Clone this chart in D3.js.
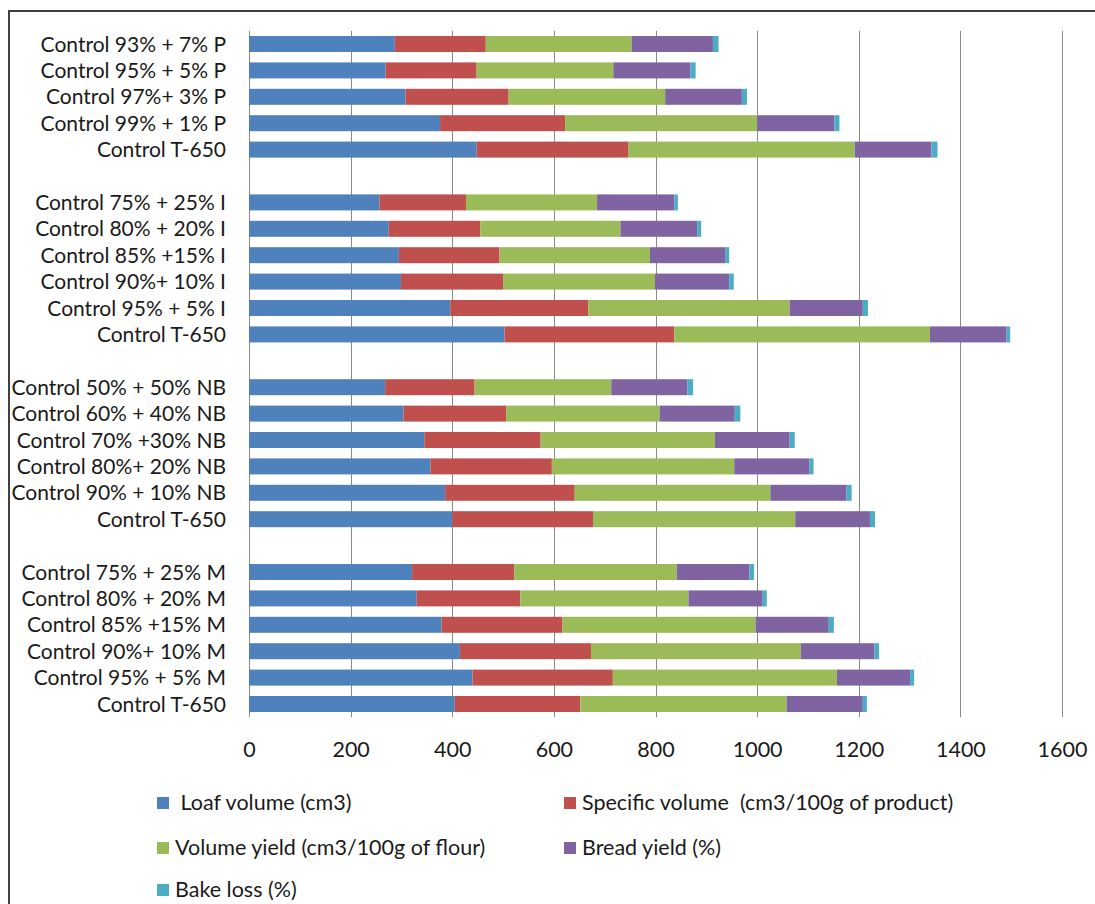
<!DOCTYPE html>
<html>
<head>
<meta charset="utf-8">
<script src="https://cdn.jsdelivr.net/npm/d3@7/dist/d3.min.js"></script>
<style>
  html, body { margin: 0; padding: 0; background: #fff; }
  svg { display: block; font-family: Lato, "Open Sans", sans-serif; }
  .lbl { white-space: pre; }
</style>
</head>
<body>
<div id="chart"></div>
<script>
// Bread quality by flour blend; empty strings separate the blend groups.
const categories = [
  "Control 93% + 7% P", "Control 95% + 5% P", "Control 97%+ 3% P", "Control 99% + 1% P", "Control T-650",
  "",
  "Control 75% + 25% I", "Control 80% + 20% I", "Control 85% +15% I", "Control 90%+ 10% I", "Control 95% + 5% I", "Control T-650",
  "",
  "Control 50% + 50% NB", "Control 60% + 40% NB", "Control 70% +30% NB", "Control 80%+ 20% NB", "Control 90% + 10% NB", "Control T-650",
  "",
  "Control 75% + 25% M", "Control 80% + 20% M", "Control 85% +15% M", "Control 90%+ 10% M", "Control 95% + 5% M", "Control T-650"
];

const loafVolume     = [287, 269, 308, 376, 448, null, 257, 275, 295, 299, 396, 503, null, 268, 304, 345, 357, 386, 400, null, 321, 330, 379, 415, 440, 405];
const specificVolume = [179, 179, 203, 246, 299, null, 170, 180, 198, 201, 272, 334, null, 176, 202, 229, 239, 255, 277, null, 201, 204, 238, 258, 276, 247];
const volumeYield    = [287, 269, 308, 378, 445, null, 258, 276, 296, 299, 396, 503, null, 269, 302, 343, 359, 385, 398, null, 320, 331, 380, 413, 441, 406];
const breadYield     = [160, 152, 151, 152, 151, null, 152, 151, 148, 146, 144, 151, null, 150, 148, 147, 148, 150, 147, null, 143, 146, 144, 145, 144, 150];
const bakeLoss       = [ 11,  10,  10,  10,  12, null,   7,   8,   8,   9,  10,   7, null,  11,  11,  10,   8,  10,  10, null,   9,   8,  10,   9,   8,   8];

const seriesNames  = ["Loaf volume (cm3)", "Specific volume  (cm3/100g of product)", "Volume yield (cm3/100g of flour)", "Bread yield (%)", "Bake loss (%)"];
const seriesColors = ["#4F81BD", "#C0504D", "#9BBB59", "#8064A2", "#4BACC6"];
const xTicks = [0, 200, 400, 600, 800, 1000, 1200, 1400, 1600];

const W = 1095, H = 904;
const margin = { left: 249, right: 1095 - 1062, top: 30.8, bottom: 904 - 717.2 };

const svg = d3.select("#chart").append("svg").attr("width", W).attr("height", H);

// outer frame (top and left edges)
svg.append("path")
  .attr("d", `M9,${H} L9,11 L${W},11`)
  .attr("fill", "none").attr("stroke", "#404040").attr("stroke-width", 2);

const x = d3.scaleLinear().domain([0, 1600]).range([margin.left, W - margin.right]);
const y = d3.scaleBand().domain(d3.range(categories.length))
  .range([margin.top, H - margin.bottom])
  .paddingInner(0.394).paddingOuter(0.197);

// vertical gridlines
svg.append("g").selectAll("line").data(xTicks).join("line")
  .attr("x1", d => Math.round(x(d)) + 0.5).attr("x2", d => Math.round(x(d)) + 0.5)
  .attr("y1", margin.top).attr("y2", H - margin.bottom)
  .attr("stroke", "#8a8a8a").attr("stroke-width", 1);

// stacked bars
const rows = categories.map((c, i) => ({
  i, c,
  vals: [loafVolume[i], specificVolume[i], volumeYield[i], breadYield[i], bakeLoss[i]]
})).filter(r => r.vals[0] !== null);

const segs = [];
rows.forEach(r => {
  let acc = 0;
  r.vals.forEach((v, k) => { segs.push({ i: r.i, k, x0: acc, x1: acc + v }); acc += v; });
});

svg.append("g").selectAll("rect").data(segs).join("rect")
  .attr("x", d => x(d.x0))
  .attr("width", d => x(d.x1) - x(d.x0))
  .attr("y", d => y(d.i))
  .attr("height", y.bandwidth())
  .attr("fill", d => seriesColors[d.k]);

// category labels
svg.append("g").selectAll("text").data(rows).join("text")
  .attr("x", 226)
  .attr("y", d => y(d.i) + y.bandwidth() / 2)
  .attr("dy", "0.36em")
  .attr("text-anchor", "end")
  .attr("font-size", 21)
  .attr("fill", "#1a1a1a")
  .text(d => d.c);

// x axis tick labels
const xAxis = d3.axisBottom(x).tickValues(xTicks).tickSize(0).tickPadding(0).tickFormat(d3.format("d"));
const gx = svg.append("g").attr("transform", `translate(0,${H - margin.bottom})`).call(xAxis);
gx.select(".domain").remove();
gx.selectAll("text")
  .attr("y", 32).attr("dy", "0.36em")
  .attr("font-size", 21.5).attr("font-family", "Lato, sans-serif").attr("fill", "#1a1a1a");

// legend
const legendPos = [
  { mx: 157, tx: 175, yc: 802 },
  { mx: 564, tx: 582, yc: 802 },
  { mx: 157, tx: 175, yc: 847 },
  { mx: 564, tx: 582, yc: 847 },
  { mx: 157, tx: 175, yc: 889 }
];
const lg = svg.append("g").selectAll("g").data(seriesNames).join("g");
lg.append("rect")
  .attr("x", (d, k) => legendPos[k].mx)
  .attr("y", (d, k) => legendPos[k].yc - 5)
  .attr("width", 12).attr("height", 12)
  .attr("fill", (d, k) => seriesColors[k]);
lg.append("text")
  .attr("class", "lbl")
  .attr("x", (d, k) => legendPos[k].tx)
  .attr("y", (d, k) => legendPos[k].yc)
  .attr("dy", "0.36em")
  .attr("font-size", 21.5)
  .attr("fill", "#1a1a1a")
  .text((d, k) => k === 0 ? " " + d : d);
</script>
</body>
</html>
